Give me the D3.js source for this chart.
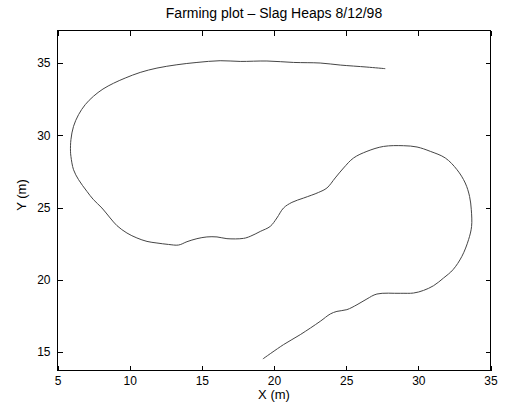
<!DOCTYPE html>
<html>
<head>
<meta charset="utf-8">
<script src="https://cdn.jsdelivr.net/npm/d3@7"></script>
<style>
  body { margin: 0; background: #fff; }
  text { font-family: "Liberation Sans", Arial, sans-serif; }
</style>
</head>
<body>
<script>
// path of the tractor (m)
var xs = [19.23, 20.66, 21.82, 23.2, 23.9, 24.36, 25.05, 25.75, 26.44, 27.13, 28.75, 29.67, 30.36, 31.06, 31.75, 32.4,
  33.02, 33.48, 33.69, 33.67, 33.55, 33.25, 32.68, 31.87, 30.83, 29.91, 28.98, 27.59, 26.44, 25.51, 24.82, 24.24, 23.67,
  23.09, 22.05, 21.24, 20.66, 20.2, 19.74, 19.05, 18.35, 17.89, 16.74, 16.05, 15.35, 14.66, 13.97, 13.39, 12.69, 11.89,
  11.2, 10.5, 9.81, 9.12, 8.65, 8.08, 7.49, 7.04, 6.46, 6.11, 5.93, 5.9, 5.93, 6.11, 6.46, 6.92, 7.49, 8.15, 8.88, 9.69,
  10.73, 11.89, 13.27, 14.66, 16.27, 17.66, 19.51, 21.36, 23.2, 24.59, 26.44, 27.71];
var ys = [14.53, 15.52, 16.21, 17.13, 17.64, 17.82, 17.94, 18.28, 18.68, 19.02, 19.07, 19.09, 19.27, 19.6, 20.13, 20.7,
  21.63, 22.78, 23.7, 24.85, 25.77, 26.7, 27.62, 28.43, 28.89, 29.19, 29.28, 29.23, 28.89, 28.43, 27.74, 27.05, 26.36,
  26.05, 25.66, 25.36, 24.97, 24.28, 23.7, 23.35, 23.01, 22.87, 22.85, 22.97, 22.97, 22.85, 22.64, 22.41, 22.45, 22.55,
  22.66, 22.9, 23.24, 23.75, 24.28, 24.97, 25.55, 26.12, 26.93, 27.62, 28.54, 28.9, 29.7, 30.62, 31.43, 32.12, 32.7,
  33.2, 33.6, 33.96, 34.35, 34.65, 34.88, 35.04, 35.16, 35.11, 35.14, 35.04, 35.0, 34.86, 34.72, 34.61];
var xTicks = [5, 10, 15, 20, 25, 30, 35];
var yTicks = [15, 20, 25, 30, 35];

var W = 511, H = 410;
var axL = 57.5, axR = 490.5, axT = 30.5, axB = 370.5;

var svg = d3.select("body").append("svg")
  .attr("width", W)
  .attr("height", H);

var x = d3.scaleLinear().domain([5, 35]).range([axL, axR]);
var y = d3.scaleLinear().domain([13.73, 37.25]).range([axB, axT]);

var pts = xs.map(function(d, i) { return [d, ys[i]]; });

var line = d3.line()
  .x(function(d) { return x(d[0]); })
  .y(function(d) { return y(d[1]); })
  .curve(d3.curveCatmullRom);

svg.append("path")
  .datum(pts)
  .attr("d", line)
  .attr("fill", "none")
  .attr("stroke", "#454545")
  .attr("stroke-width", 1);

// box
svg.append("rect")
  .attr("x", axL).attr("y", axT)
  .attr("width", axR - axL).attr("height", axB - axT)
  .attr("fill", "none").attr("stroke", "#000")
  .attr("shape-rendering", "crispEdges");

function styleAxis(g) {
  g.select(".domain").remove();
  g.selectAll("line").attr("stroke", "#000").attr("shape-rendering", "crispEdges");
  g.selectAll("text").attr("fill", "#000").style("font-size", "12px");
}

svg.append("g")
  .attr("transform", "translate(0," + axB + ")")
  .call(d3.axisBottom(x).tickValues(xTicks).tickSize(-5).tickPadding(6).tickFormat(d3.format("d")))
  .call(styleAxis);
svg.append("g")
  .attr("transform", "translate(0," + axT + ")")
  .call(d3.axisTop(x).tickValues(xTicks).tickSize(-5).tickFormat(""))
  .call(styleAxis);
svg.append("g")
  .attr("transform", "translate(" + axL + ",0)")
  .call(d3.axisLeft(y).tickValues(yTicks).tickSize(-5).tickPadding(7).tickFormat(d3.format("d")))
  .call(styleAxis);
svg.append("g")
  .attr("transform", "translate(" + axR + ",0)")
  .call(d3.axisRight(y).tickValues(yTicks).tickSize(-5).tickFormat(""))
  .call(styleAxis);

svg.append("text")
  .attr("x", (axL + axR) / 2)
  .attr("y", 18)
  .attr("text-anchor", "middle")
  .style("font-size", "14px")
  .text("Farming plot \u2013 Slag Heaps 8/12/98");

svg.append("text")
  .attr("x", (axL + axR) / 2)
  .attr("y", 399)
  .attr("text-anchor", "middle")
  .style("font-size", "13px")
  .text("X (m)");

svg.append("text")
  .attr("transform", "translate(26," + 195 + ") rotate(-90)")
  .attr("text-anchor", "middle")
  .style("font-size", "13px")
  .text("Y (m)");
</script>
</body>
</html>
